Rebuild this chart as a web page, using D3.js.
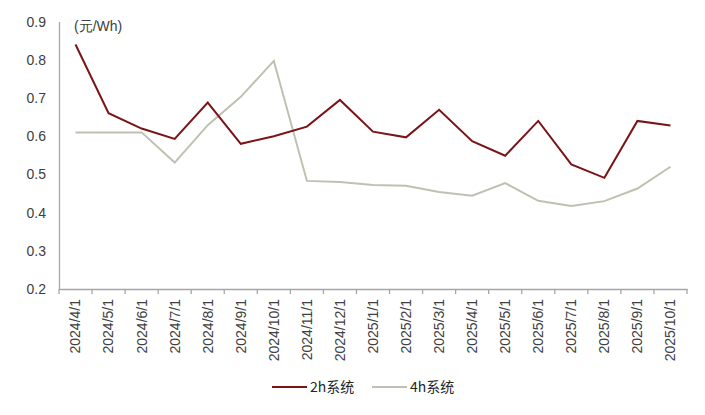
<!DOCTYPE html>
<html><head><meta charset="utf-8">
<script src="https://cdn.jsdelivr.net/npm/d3@7"></script>
<style>body{margin:0;background:#fff;}svg{display:block;}</style>
</head><body><svg id="c" width="705" height="415"></svg>
<script>
const categories = ["2024/4/1","2024/5/1","2024/6/1","2024/7/1","2024/8/1","2024/9/1","2024/10/1","2024/11/1","2024/12/1","2025/1/1","2025/2/1","2025/3/1","2025/4/1","2025/5/1","2025/6/1","2025/7/1","2025/8/1","2025/9/1","2025/10/1"];
const series2h = [0.84,0.66,0.62,0.593,0.688,0.58,0.60,0.625,0.695,0.612,0.597,0.669,0.587,0.549,0.640,0.526,0.491,0.640,0.628];
const series4h = [0.61,0.61,0.61,0.531,0.629,0.703,0.797,0.483,0.480,0.472,0.470,0.454,0.444,0.477,0.431,0.417,0.430,0.463,0.520];
const yTicks = [0.2,0.3,0.4,0.5,0.6,0.7,0.8,0.9];
const seriesNames = ["2h系统","4h系统"];
const colors = ["#7A1416","#C0C0B0"];

const svg = d3.select("#c");
const font = "'Liberation Sans', Arial, sans-serif";
const x = d3.scaleBand().domain(categories).range([59, 687]);
const y = d3.scaleLinear().domain([0.2, 0.9]).range([289, 21.6]);

// y axis
const ya = svg.append("g").attr("transform","translate(59,0)")
  .call(d3.axisLeft(y).tickValues(yTicks).tickSize(0).tickPadding(13).tickFormat(d3.format(".1f")));
ya.select(".domain").attr("stroke","#A6A6A6").attr("stroke-width",1.3);
ya.selectAll("text").attr("font-family",font).attr("font-size",14).attr("fill","#404040");

// x axis
const xa = svg.append("g").attr("transform","translate(0,289)")
  .call(d3.axisBottom(x).tickSize(0).tickSizeOuter(0));
xa.select(".domain").attr("stroke","#A6A6A6").attr("stroke-width",1.3);
// band-edge ticks
const edges = categories.map(c => x(c)).concat([x.range()[1]]);
xa.selectAll(".edge").data(edges).enter().append("line").attr("class","edge")
  .attr("x1",d=>d).attr("x2",d=>d).attr("y1",0).attr("y2",5).attr("stroke","#A6A6A6").attr("stroke-width",1.3);
xa.selectAll(".tick text").attr("font-family",font).attr("font-size",14).attr("fill","#404040")
  .attr("text-anchor","end").attr("dy","0.35em").attr("x",0).attr("y",0)
  .attr("transform","translate(0,10) rotate(-90)");

// unit label
svg.append("text").attr("x",74).attr("y",31).attr("font-family",font).attr("font-size",14).attr("fill","#404040").text("(元/Wh)");

const line = d3.line().x((d,i)=>x(categories[i])+x.bandwidth()/2).y(d=>y(d));
[series4h, series2h].forEach((s,k)=>{
  const ci = k===0?1:0;
  svg.append("path").datum(s).attr("d",line).attr("fill","none").attr("stroke",colors[ci]).attr("stroke-width",2).attr("stroke-linejoin","miter");
});

// legend
const legX = [272, 372];
seriesNames.forEach((n,i)=>{
  svg.append("line").attr("x1",legX[i]).attr("x2",legX[i]+35).attr("y1",387).attr("y2",387).attr("stroke",colors[i]).attr("stroke-width",2);
  svg.append("text").attr("x",legX[i]+38).attr("y",387).attr("dy","0.35em").attr("font-family","'Noto Sans CJK SC', sans-serif").attr("font-size",14).attr("fill","#262626").text(n);
});
</script></body></html>
